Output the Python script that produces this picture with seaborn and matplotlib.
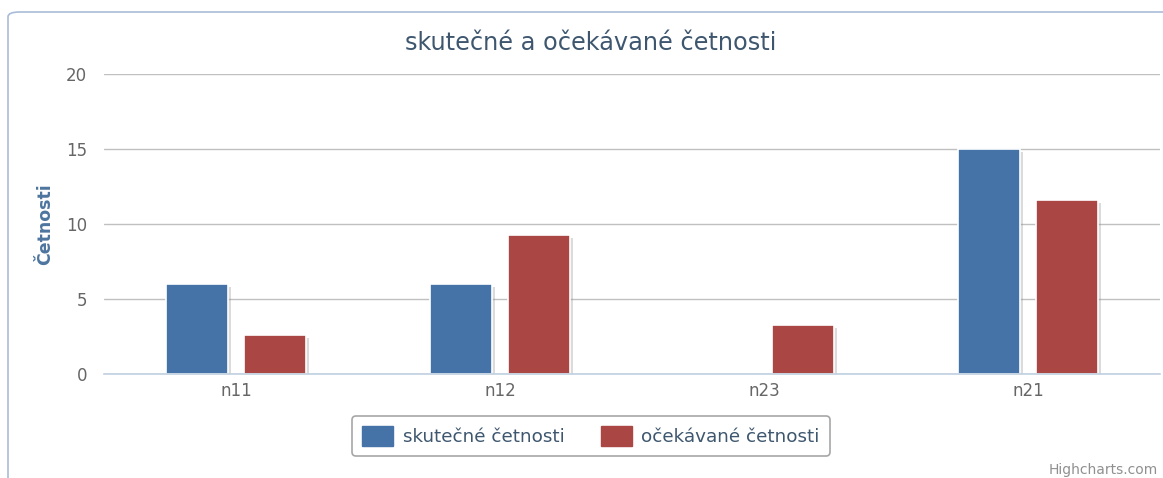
import matplotlib
matplotlib.use("Agg")
import matplotlib.pyplot as plt
import matplotlib.patheffects as pe
from matplotlib.patches import FancyBboxPatch, Patch
import seaborn as sns
import pandas as pd

categories = ["n11", "n12", "n23", "n21"]
series_names = ["skutečné četnosti", "očekávané četnosti"]
actual = [6, 6, 0, 15]
expected = [2.6, 9.27, 3.27, 11.6]
yticks = [0, 5, 10, 15, 20]
colors = ["#4572A7", "#AA4643"]

df = pd.DataFrame({
    "cat": categories * 2,
    "series": [series_names[0]] * len(categories) + [series_names[1]] * len(categories),
    "value": actual + expected,
})

sns.set_theme(style="white")
plt.rcParams["font.family"] = ["DejaVu Sans"]

W, H = 1163, 478
fig = plt.figure(figsize=(W / 100, H / 100), dpi=100)
ax = fig.add_axes([104 / W, 1 - 374 / H, (1160 - 104) / W, 300 / H])

sns.barplot(data=df, x="cat", y="value", hue="series", order=categories,
            hue_order=series_names, palette=colors, saturation=1, width=0.59, gap=0.2,
            edgecolor="white", linewidth=1.2, ax=ax, legend=False, zorder=3)

for p in ax.patches:
    if p.get_height() > 0:
        p.set_path_effects([pe.SimplePatchShadow(offset=(2, -2), shadow_rgbFace="#888888", alpha=0.3), pe.Normal()])
    else:
        p.set_visible(False)

ax.set_ylim(0, 20)
ax.set_xlim(-0.5, len(categories) - 0.5)
ax.set_yticks(yticks)
ax.yaxis.grid(True, color="#C0C0C0", linewidth=1)
ax.set_axisbelow(True)
for s in ["top", "right", "left"]:
    ax.spines[s].set_visible(False)
ax.spines["bottom"].set_color("#C0D0E0")
ax.spines["bottom"].set_linewidth(1.2)
ax.spines["bottom"].set_zorder(5)

ax.tick_params(axis="y", length=0, pad=12, labelsize=12, labelcolor="#666666")
ax.tick_params(axis="x", length=0, pad=6, labelsize=12, labelcolor="#666666")
ax.set_xticks([i + 0.5 for i in range(-1, len(categories))], minor=True)
ax.tick_params(axis="x", which="minor", length=6, color="#C0D0E0", width=1.2, direction="out")

ax.set_xlabel("")
ax.set_ylabel("Četnosti", fontsize=12.5, fontweight="bold", color="#4D759E", labelpad=9)

fig.text(591 / W, 1 - 43 / H, "skutečné a očekávané četnosti", ha="center", va="center",
         fontsize=17.3, color="#3E576F")

handles = [Patch(facecolor=c, edgecolor=c) for c in colors]
leg = fig.legend(handles, series_names, loc="center", bbox_to_anchor=(591 / W, 1 - 436 / H),
                 ncol=2, frameon=True, fontsize=13.2, handlelength=1.7, handleheight=1.3,
                 columnspacing=2.0, handletextpad=0.5, borderpad=0.55, fancybox=True)
leg.get_frame().set_edgecolor("#909090")
leg.get_frame().set_linewidth(1.2)
for t in leg.get_texts():
    t.set_color("#3E576F")

fig.text(1158 / W, 1 - 470 / H, "Highcharts.com", ha="right", va="center", fontsize=10, color="#909090")

border = FancyBboxPatch((8 / W, -0.05), 1.2, 1 - 12 / H + 0.05, boxstyle="round,pad=0,rounding_size=0.01",
                        transform=fig.transFigure, facecolor="none", edgecolor="#A8BCD8", linewidth=1.2,
                        clip_on=False)
fig.patches.append(border)

fig.savefig("out.png", dpi=100)
